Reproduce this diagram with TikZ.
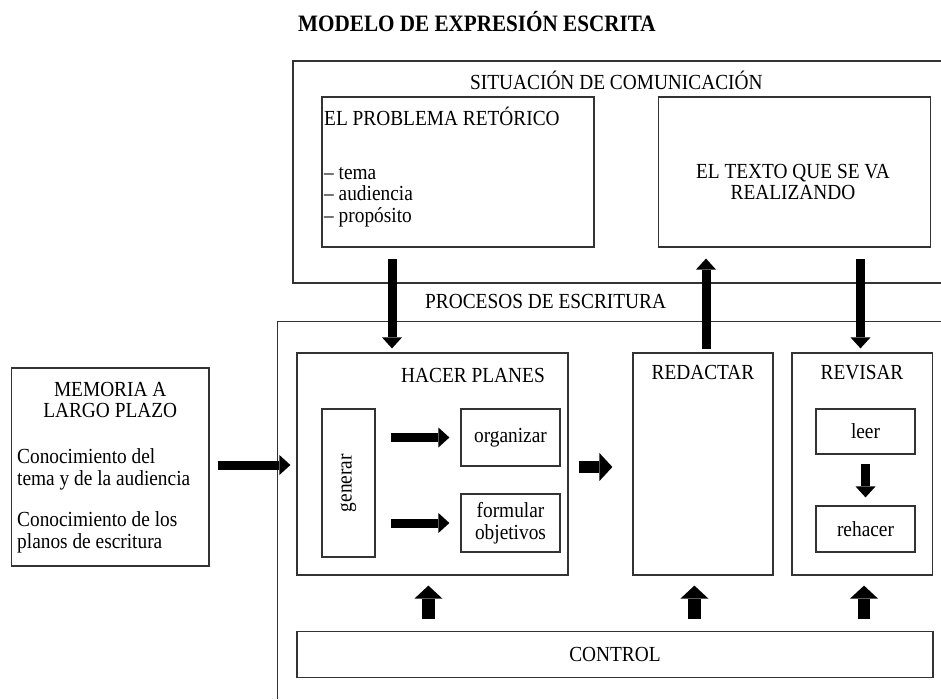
\documentclass[tikz,border=0pt]{standalone}
\usepackage{fontspec}
\setmainfont{Liberation Serif}[FakeStretch=0.9]
\usetikzlibrary{positioning, arrows.meta}

\begin{document}
\begin{tikzpicture}[x=1pt, y=-1pt,
   font=\fontsize{21.5}{21.5}\selectfont,
   box/.style = {draw=black!80, line width=1.2pt, inner sep=0pt},% plain boxes
   frame/.style = {draw=black!80, line width=1.2pt},
   txt/.style = {inner sep=0pt, anchor=base},
      arrow/.style = {line width=9pt, -{Triangle[width=20pt,length=11pt,line width=0pt]}},
      fatarrow/.style = {line width=12.5pt, -{Triangle[width=28pt,length=13pt,line width=0pt]}}
                        ]
\useasboundingbox (0,0) rectangle (941,699);
\node (title) [txt, anchor=base west, font=\fontsize{23.5}{24}\selectfont\bfseries]
      at (298,31.5) {MODELO DE EXPRESIÓN ESCRITA};

% situacion de comunicacion, open on the right
\draw [frame] (941,61) -- (293,61) -- (293,283) -- (941,283);
\node (sitlbl) [txt, anchor=base west] at (470,89) {SITUACIÓN DE COMUNICACIÓN};
\node (problema) [box, minimum width=272, minimum height=150] at (458,172) {};
\node (probtxt) [txt, anchor=base west] at (324,125)
                {\begin{tabular}[t]{@{}l@{}}% text in nodes write as table
                  EL PROBLEMA RETÓRICO\\[32.5pt]
                  – tema\\
                  – audiencia\\
                  – propósito
                 \end{tabular}};
\node (texto) [box, minimum width=272, minimum height=150] at (794.5,172) {};
\node (textotxt) [txt] at (793,178)
                {\begin{tabular}[t]{@{}c@{}}
                  EL TEXTO QUE SE VA\\
                  REALIZANDO
                 \end{tabular}};

% procesos de escritura, open on the right and below
\draw [frame] (941,321.7) -- (277.7,321.7) -- (277.7,699);
\node (proclbl) [txt, anchor=base west] at (425,308) {PROCESOS DE ESCRITURA};

\node (hacer) [box, minimum width=271, minimum height=222] at (432.5,464) {};
\node (hacerlbl) [txt] at (473,382) {HACER PLANES};
\node (generar) [box, rotate=90, minimum width=148, minimum height=53] at (348.5,483) {generar};
\node (organizar) [box, minimum width=99, minimum height=57] at (510.5,437.5) {organizar};
\node (formular) [box, minimum width=99, minimum height=58, align=center]
      at (510.5,523) {formular\\objetivos};

\node (redactar) [box, minimum width=140, minimum height=222] at (703,464) {};
\node (redlbl) [txt] at (703,379) {REDACTAR};
\node (revisar) [box, minimum width=140.5, minimum height=222] at (862.3,464) {};
\node (revlbl) [txt] at (862,379) {REVISAR};
\node (leer) [box, minimum width=99, minimum height=45] at (865.5,431.5) {leer};
\node (rehacer) [box, minimum width=99, minimum height=46] at (865.5,529) {rehacer};

\node (control) [box, minimum width=636, minimum height=46] at (615,654.7) {CONTROL};

\node (memoria) [box, minimum width=197.5, minimum height=198] at (110.3,467) {};
\node (memtxt) [txt, anchor=base west] at (17,396)
                {\begin{tabular}[t]{@{}p{186pt}@{}}
                  \multicolumn{1}{c}{MEMORIA A}\\
                  \multicolumn{1}{c}{LARGO PLAZO}\\[24.5pt]
                  Conocimiento del\\
                  tema y de la audiencia\\[20pt]
                  Conocimiento de los\\
                  planos de escritura
                 \end{tabular}};

% arrows between situacion and procesos
\coordinate (p1) at (392,247);
\coordinate (p2) at (706,352.7);
\coordinate (p3) at (860.5,247);
\draw [arrow, shorten <=12pt, shorten >=4pt] (p1) -- (p1 |- hacer.north);
\draw [arrow, shorten <=4pt, shorten >=11pt] (p2) -- (p2 |- texto.south);
\draw [arrow, shorten <=12pt, shorten >=4pt] (p3) -- (p3 |- revisar.north);

\draw [arrow, shorten <=8pt, shorten >=6pt] ([yshift=2pt]memoria.east) -- ([yshift=2pt]memoria.east -| hacer.west);
\draw [arrow, shorten <=15pt, shorten >=11pt] (generar.south |- organizar) -- (organizar);
\draw [arrow, shorten <=15pt, shorten >=11pt] (generar.south |- formular) -- (formular);
\draw [fatarrow, shorten <=10pt, shorten >=20pt] ([yshift=-3pt]hacer.east) -- ([yshift=-3pt]redactar.west);
\draw [arrow, line width=8.5pt, shorten <=9pt, shorten >=8pt] (leer) -- (rehacer);

% control
\foreach \x in {428.4, 694.4, 864}
   \draw [fatarrow, shorten <=12pt, shorten >=10pt] (\x,0 |- control.north) -- (\x,0 |- hacer.south);
\end{tikzpicture}
\end{document}
